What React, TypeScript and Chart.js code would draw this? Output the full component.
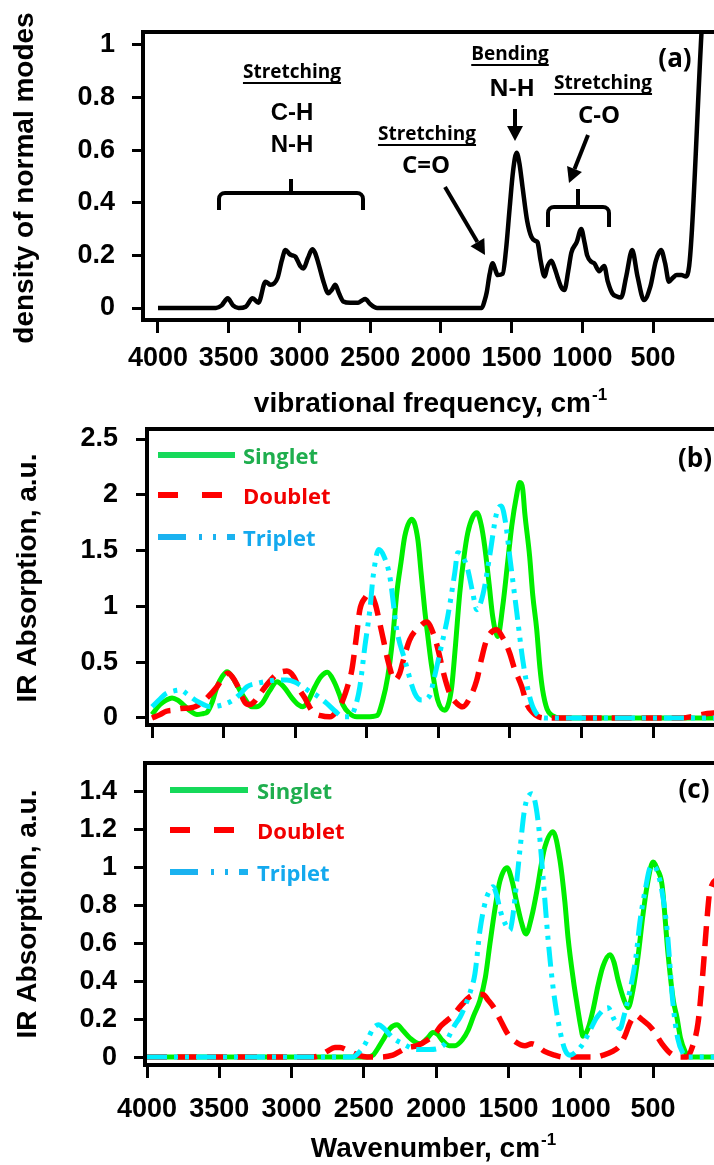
import React, { useEffect, useRef } from "react";
import { Chart, registerables } from "chart.js";

Chart.register(...registerables);

const ARIAL = "'Liberation Sans', Arial, Helvetica, sans-serif";
const CALIBRI = "'Open Sans', 'Noto Sans', sans-serif";

// ---------- ticks / labels ----------
const xTickValues = [4000, 3500, 3000, 2500, 2000, 1500, 1000, 500];
const aYTicks = [0, 0.2, 0.4, 0.6, 0.8, 1];
const bYTicks = [0, 0.5, 1, 1.5, 2, 2.5];
const cYTicks = [0, 0.2, 0.4, 0.6, 0.8, 1, 1.2, 1.4];
const seriesNames = ["Singlet", "Doublet", "Triplet"];

// ---------- panel (a): density of normal modes ----------
const aX = [4000, 3700, 3590, 3550, 3507, 3470, 3430, 3380, 3331, 3290, 3240, 3204, 3155, 3125, 3099, 3070, 3050, 3028, 2995, 2972, 2940, 2909, 2890, 2866, 2830, 2796, 2770, 2747, 2720, 2690, 2641, 2585, 2560, 2535, 2500, 2451, 2000, 1711, 1690, 1676, 1655, 1634, 1615, 1599, 1563, 1540, 1514, 1490, 1465, 1445, 1423, 1390, 1360, 1330, 1317, 1295, 1268, 1245, 1219, 1195, 1177, 1150, 1127, 1100, 1078, 1040, 1008, 985, 966, 935, 916, 881, 846, 820, 789, 760, 726, 690, 648, 610, 564, 520, 480, 444, 415, 388, 360, 332, 300, 268, 245, 225, 150, 120];
const aY = [0, 0, 0, 0.01, 0.037, 0.01, 0, 0.005, 0.037, 0.02, 0.1, 0.088, 0.114, 0.18, 0.22, 0.205, 0.2, 0.195, 0.16, 0.15, 0.19, 0.223, 0.21, 0.17, 0.1, 0.056, 0.07, 0.088, 0.055, 0.025, 0.02, 0.02, 0.028, 0.034, 0.015, 0, 0, 0, 0.03, 0.06, 0.13, 0.17, 0.145, 0.125, 0.13, 0.22, 0.38, 0.52, 0.59, 0.55, 0.46, 0.33, 0.27, 0.255, 0.25, 0.18, 0.12, 0.16, 0.18, 0.15, 0.12, 0.08, 0.068, 0.14, 0.21, 0.25, 0.3, 0.25, 0.2, 0.175, 0.17, 0.14, 0.16, 0.1, 0.056, 0.045, 0.04, 0.12, 0.22, 0.12, 0.03, 0.08, 0.18, 0.22, 0.17, 0.1, 0.115, 0.125, 0.125, 0.12, 0.16, 0.3, 1.12, 1.3];

// ---------- panel (b) ----------
const bSingletX = [4000, 3944, 3900, 3860, 3820, 3783, 3730, 3686, 3640, 3616, 3580, 3546, 3510, 3476, 3440, 3400, 3350, 3302, 3270, 3232, 3180, 3127, 3080, 3023, 2980, 2946, 2910, 2862, 2820, 2775, 2730, 2688, 2667, 2620, 2569, 2500, 2430, 2390, 2353, 2320, 2290, 2260, 2234, 2185, 2143, 2120, 2095, 2070, 2046, 2004, 1955, 1930, 1906, 1880, 1850, 1820, 1794, 1760, 1731, 1700, 1676, 1645, 1620, 1585, 1550, 1515, 1487, 1455, 1431, 1410, 1396, 1362, 1340, 1313, 1290, 1271, 1240, 1201, 1150, 30];
const bSingletY = [0.03, 0.12, 0.16, 0.18, 0.16, 0.12, 0.06, 0.03, 0.04, 0.05, 0.14, 0.28, 0.37, 0.415, 0.37, 0.28, 0.17, 0.1, 0.1, 0.13, 0.24, 0.325, 0.28, 0.18, 0.12, 0.1, 0.15, 0.28, 0.37, 0.41, 0.33, 0.2, 0.12, 0.04, 0.01, 0.01, 0.02, 0.15, 0.37, 0.7, 1.12, 1.4, 1.63, 1.78, 1.6, 1.3, 0.97, 0.7, 0.46, 0.16, 0.07, 0.12, 0.28, 0.65, 1.12, 1.45, 1.66, 1.8, 1.84, 1.73, 1.54, 1.2, 0.91, 0.73, 1.0, 1.4, 1.72, 1.98, 2.11, 2.05, 1.84, 1.45, 1.1, 0.8, 0.45, 0.25, 0.08, 0.02, 0, 0];
const bDoubletX = [4000, 3944, 3900, 3853, 3800, 3735, 3700, 3660, 3616, 3546, 3500, 3470, 3440, 3407, 3351, 3320, 3290, 3260, 3190, 3120, 3058, 3010, 2967, 2933, 2880, 2820, 2758, 2710, 2667, 2630, 2604, 2570, 2548, 2510, 2478, 2440, 2409, 2380, 2353, 2304, 2270, 2248, 2200, 2129, 2081, 2025, 1990, 1969, 1920, 1870, 1829, 1780, 1731, 1700, 1662, 1592, 1550, 1501, 1470, 1417, 1380, 1341, 1300, 1250, 300, 200, 120, 30];
const bDoubletY = [0, 0.03, 0.06, 0.07, 0.085, 0.09, 0.1, 0.13, 0.18, 0.28, 0.37, 0.4, 0.37, 0.3, 0.14, 0.12, 0.14, 0.19, 0.31, 0.4, 0.42, 0.37, 0.25, 0.18, 0.06, 0.02, 0.01, 0.06, 0.16, 0.3, 0.43, 0.75, 0.97, 1.08, 1.12, 1.02, 0.85, 0.68, 0.52, 0.34, 0.4, 0.5, 0.7, 0.82, 0.86, 0.72, 0.55, 0.43, 0.22, 0.13, 0.1, 0.18, 0.34, 0.52, 0.7, 0.79, 0.72, 0.58, 0.45, 0.28, 0.12, 0.05, 0.01, 0, 0, 0.02, 0.04, 0.05];
const bTripletX = [4000, 3944, 3900, 3853, 3800, 3750, 3686, 3640, 3595, 3530, 3480, 3435, 3380, 3337, 3267, 3190, 3120, 3058, 3000, 2946, 2890, 2848, 2779, 2720, 2667, 2618, 2580, 2548, 2513, 2478, 2455, 2416, 2380, 2339, 2290, 2234, 2164, 2116, 2060, 2030, 1990, 1934, 1885, 1864, 1830, 1794, 1759, 1731, 1700, 1676, 1640, 1592, 1560, 1530, 1501, 1452, 1410, 1362, 1320, 1243, 30];
const bTripletY = [0.1, 0.17, 0.22, 0.24, 0.25, 0.21, 0.15, 0.12, 0.1, 0.11, 0.13, 0.16, 0.22, 0.28, 0.31, 0.33, 0.34, 0.34, 0.32, 0.28, 0.23, 0.2, 0.13, 0.06, 0.01, 0.01, 0.1, 0.28, 0.64, 0.97, 1.27, 1.51, 1.45, 1.27, 0.79, 0.52, 0.22, 0.16, 0.2, 0.35, 0.58, 0.91, 1.3, 1.48, 1.45, 1.33, 1.12, 0.97, 1.05, 1.18, 1.46, 1.84, 1.9, 1.75, 1.45, 0.95, 0.52, 0.19, 0.05, 0, 0];

// ---------- panel (c) ----------
const cSingletX = [4000, 2480, 2437, 2400, 2368, 2320, 2271, 2230, 2181, 2112, 2060, 2022, 1990, 1960, 1910, 1870, 1820, 1780, 1740, 1697, 1660, 1628, 1590, 1559, 1510, 1475, 1441, 1410, 1379, 1340, 1303, 1270, 1248, 1192, 1144, 1110, 1088, 1050, 1026, 1000, 985, 950, 915, 880, 846, 798, 770, 743, 700, 673, 640, 604, 570, 542, 500, 470, 438, 397, 360, 335, 310, 279, 250, 30];
const cSingletY = [0, 0, 0.01, 0.05, 0.09, 0.15, 0.17, 0.14, 0.1, 0.07, 0.1, 0.13, 0.12, 0.09, 0.06, 0.06, 0.09, 0.14, 0.22, 0.3, 0.42, 0.6, 0.8, 0.93, 1.0, 0.93, 0.81, 0.71, 0.65, 0.74, 0.88, 1.03, 1.11, 1.19, 1.04, 0.82, 0.63, 0.4, 0.28, 0.16, 0.11, 0.15, 0.25, 0.38, 0.48, 0.54, 0.5, 0.41, 0.3, 0.26, 0.35, 0.53, 0.75, 0.9, 1.03, 0.99, 0.91, 0.55, 0.3, 0.21, 0.1, 0.03, 0, 0];
const cDoubletX = [4000, 2850, 2800, 2755, 2700, 2665, 2600, 2540, 2478, 2389, 2300, 2250, 2200, 2133, 2060, 2000, 1973, 1930, 1884, 1830, 1766, 1720, 1676, 1640, 1600, 1559, 1503, 1450, 1386, 1340, 1303, 1250, 1180, 1123, 900, 846, 780, 730, 690, 660, 620, 580, 507, 438, 380, 314, 265, 230, 189, 155, 130, 106, 30];
const cDoubletY = [0, 0, 0.01, 0.03, 0.05, 0.05, 0.03, 0.01, 0, 0, 0.01, 0.03, 0.05, 0.06, 0.09, 0.13, 0.16, 0.19, 0.22, 0.27, 0.32, 0.33, 0.33, 0.3, 0.26, 0.2, 0.12, 0.08, 0.06, 0.07, 0.06, 0.03, 0.01, 0, 0, 0.01, 0.03, 0.06, 0.12, 0.18, 0.22, 0.2, 0.15, 0.07, 0.02, 0, 0, 0.05, 0.18, 0.45, 0.7, 0.88, 0.95];
const cTripletX = [4000, 2600, 2575, 2540, 2506, 2470, 2437, 2400, 2360, 2298, 2230, 2133, 2050, 1974, 1930, 1905, 1870, 1835, 1800, 1766, 1732, 1697, 1660, 1630, 1607, 1580, 1559, 1520, 1490, 1469, 1440, 1420, 1386, 1338, 1296, 1261, 1227, 1192, 1144, 1110, 1075, 1030, 985, 930, 888, 812, 770, 729, 700, 660, 620, 590, 550, 521, 500, 452, 404, 362, 330, 293, 260, 30];
const cTripletY = [0, 0, 0, 0.02, 0.05, 0.1, 0.15, 0.17, 0.15, 0.1, 0.07, 0.04, 0.04, 0.05, 0.08, 0.12, 0.17, 0.21, 0.27, 0.34, 0.44, 0.67, 0.82, 0.88, 0.9, 0.85, 0.78, 0.7, 0.67, 0.75, 0.95, 1.1, 1.32, 1.39, 1.25, 0.95, 0.63, 0.37, 0.14, 0.04, 0.01, 0.03, 0.07, 0.15, 0.21, 0.26, 0.2, 0.15, 0.22, 0.35, 0.52, 0.72, 0.9, 1.0, 1.01, 0.93, 0.68, 0.28, 0.1, 0.02, 0, 0];

// ---------- styles ----------
const CANVAS_W = 724;
const singletColor = "#00ee00";
const doubletColor = "#ff0000";
const tripletColor = "#00eeff";
const singletDash: number[] = [];
const doubletDash = [20, 10];
const tripletDash = [20, 7, 4, 7, 4, 7];

function pts(xs: number[], ys: number[]) {
  return xs.map((x, i) => ({ x, y: ys[i] }));
}

function lineDs(label: string, xs: number[], ys: number[], color: string, width: number, dash: number[], order: number) {
  return {
    label,
    data: pts(xs, ys),
    borderColor: color,
    backgroundColor: color,
    borderWidth: width,
    borderDash: dash,
    borderCapStyle: "butt",
    borderJoinStyle: "round",
    pointRadius: 0,
    pointHoverRadius: 0,
    fill: false,
    tension: 0.4,
    cubicInterpolationMode: "monotone",
    order,
  };
}

// ---------- drawing helpers ----------
function text(ctx: CanvasRenderingContext2D, s: string, x: number, y: number, font: string, color = "#000", align: CanvasTextAlign = "center") {
  ctx.save();
  ctx.font = font;
  ctx.fillStyle = color;
  ctx.textAlign = align;
  ctx.textBaseline = "alphabetic";
  ctx.fillText(s, x, y);
  ctx.restore();
}

function underlinedText(ctx: CanvasRenderingContext2D, s: string, x: number, y: number, size: number) {
  const font = `bold ${size}px ${CALIBRI}`;
  text(ctx, s, x, y, font);
  ctx.save();
  ctx.font = font;
  const w = ctx.measureText(s).width;
  ctx.fillStyle = "#000";
  ctx.fillRect(x - w / 2, y + 4, w, 2);
  ctx.restore();
}

function rotatedTitle(ctx: CanvasRenderingContext2D, s: string, cx: number, cy: number, size: number) {
  ctx.save();
  ctx.translate(cx, cy);
  ctx.rotate(-Math.PI / 2);
  ctx.font = `bold ${size}px ${ARIAL}`;
  ctx.fillStyle = "#000";
  ctx.textAlign = "center";
  ctx.textBaseline = "middle";
  ctx.fillText(s, 0, 0);
  ctx.restore();
}

function supTitle(ctx: CanvasRenderingContext2D, main: string, sup: string, cx: number, baseline: number, size: number) {
  ctx.save();
  ctx.fillStyle = "#000";
  ctx.textAlign = "left";
  ctx.textBaseline = "alphabetic";
  ctx.font = `bold ${size}px ${ARIAL}`;
  const w1 = ctx.measureText(main).width;
  const supSize = Math.round(size * 0.6);
  ctx.font = `bold ${supSize}px ${ARIAL}`;
  const w2 = ctx.measureText(sup).width;
  const x0 = cx - (w1 + w2) / 2;
  ctx.font = `bold ${size}px ${ARIAL}`;
  ctx.fillText(main, x0, baseline);
  ctx.font = `bold ${supSize}px ${ARIAL}`;
  ctx.fillText(sup, x0 + w1 + 1, baseline - size * 0.42);
  ctx.restore();
}

function arrow(ctx: CanvasRenderingContext2D, x1: number, y1: number, x2: number, y2: number) {
  const head = 15;
  const hw = 8;
  const ang = Math.atan2(y2 - y1, x2 - x1);
  const bx = x2 - head * Math.cos(ang);
  const by = y2 - head * Math.sin(ang);
  ctx.save();
  ctx.strokeStyle = "#000";
  ctx.fillStyle = "#000";
  ctx.lineWidth = 4;
  ctx.beginPath();
  ctx.moveTo(x1, y1);
  ctx.lineTo(bx, by);
  ctx.stroke();
  ctx.beginPath();
  ctx.moveTo(x2, y2);
  ctx.lineTo(bx + hw * Math.sin(ang), by - hw * Math.cos(ang));
  ctx.lineTo(bx - hw * Math.sin(ang), by + hw * Math.cos(ang));
  ctx.closePath();
  ctx.fill();
  ctx.restore();
}

function bracket(ctx: CanvasRenderingContext2D, xl: number, xr: number, yTop: number, yEnd: number, xm: number, yNub: number) {
  const r = 6;
  ctx.save();
  ctx.strokeStyle = "#000";
  ctx.lineWidth = 4;
  ctx.lineCap = "butt";
  ctx.beginPath();
  ctx.moveTo(xl, yEnd);
  ctx.arcTo(xl, yTop, xl + r, yTop, r);
  ctx.lineTo(xr - r, yTop);
  ctx.arcTo(xr, yTop, xr, yTop + r, r);
  ctx.lineTo(xr, yEnd);
  ctx.moveTo(xm, yTop);
  ctx.lineTo(xm, yNub);
  ctx.stroke();
  ctx.restore();
}

function legendLine(ctx: CanvasRenderingContext2D, x0: number, x1: number, y: number, color: string, dash: number[]) {
  ctx.save();
  ctx.strokeStyle = color;
  ctx.lineWidth = 6;
  ctx.lineCap = "butt";
  ctx.setLineDash(dash);
  ctx.beginPath();
  ctx.moveTo(x0, y);
  ctx.lineTo(x1, y);
  ctx.stroke();
  ctx.restore();
}

function drawLegend(ctx: CanvasRenderingContext2D, x0: number, x1: number, tx: number, ys: number[]) {
  const font = `bold 22px ${CALIBRI}`;
  legendLine(ctx, x0, x1, ys[0], "#16d95a", []);
  text(ctx, seriesNames[0], tx, ys[0] + 9, font, "#1fae4e", "left");
  legendLine(ctx, x0, x1, ys[1], "#ff0000", [20, 24]);
  text(ctx, seriesNames[1], tx, ys[1] + 9, font, "#f20000", "left");
  legendLine(ctx, x0, x1, ys[2], "#1ab2f0", [28, 13, 3, 11, 3, 11]);
  text(ctx, seriesNames[2], tx, ys[2] + 9, font, "#14a9ee", "left");
}

function drawBox(chart: any) {
  const { ctx, chartArea } = chart;
  ctx.save();
  ctx.strokeStyle = "#000";
  ctx.lineWidth = 4;
  ctx.strokeRect(chartArea.left, chartArea.top, chartArea.right - chartArea.left, chartArea.bottom - chartArea.top);
  ctx.restore();
}

// ---------- panels ----------
type PanelCfg = {
  key: string;
  top: number;
  height: number;
  area: { left: number; top: number; right: number; bottom: number };
  xMin: number;
  xMax: number;
  yMin: number;
  yMax: number;
  yTicks: number[];
  showXLabels: boolean;
  xLabelPad: number;
  yLabelPad: number;
  datasets: any[];
  draw: (ctx: CanvasRenderingContext2D) => void;
};

const panels: PanelCfg[] = [
  {
    key: "a",
    top: 0,
    height: 425,
    area: { left: 143, top: 32, right: 720, bottom: 320 },
    xMin: 27,
    xMax: 4106,
    yMin: -0.0456,
    yMax: 1.049,
    yTicks: aYTicks,
    showXLabels: true,
    xLabelPad: 9,
    yLabelPad: 17,
    datasets: [lineDs("density", aX, aY, "#000", 4.5, [], 1)],
    draw: (ctx) => {
      rotatedTitle(ctx, "density of normal modes", 25, 178, 28);
      supTitle(ctx, "vibrational frequency, cm", "-1", 430, 412, 28);
      underlinedText(ctx, "Stretching", 292, 78, 19);
      text(ctx, "C-H", 292, 120, `bold 24px ${ARIAL}`);
      text(ctx, "N-H", 292, 152, `bold 24px ${ARIAL}`);
      bracket(ctx, 219, 363, 193, 210, 291, 179);
      underlinedText(ctx, "Stretching", 427, 140, 19);
      text(ctx, "C=O", 426, 173, `bold 24px ${CALIBRI}`);
      arrow(ctx, 445, 187, 485, 255);
      underlinedText(ctx, "Bending", 510, 60, 19);
      text(ctx, "N-H", 512, 96, `bold 24px ${CALIBRI}`);
      arrow(ctx, 515, 109, 515, 141);
      underlinedText(ctx, "Stretching", 603, 89, 19);
      text(ctx, "C-O", 599, 123, `bold 24px ${CALIBRI}`);
      arrow(ctx, 588, 135, 569, 183);
      bracket(ctx, 548, 609, 207, 227, 578, 189);
      text(ctx, "(a)", 675, 67, `bold 26px ${CALIBRI}`);
    },
  },
  {
    key: "b",
    top: 425,
    height: 315,
    area: { left: 147, top: 4, right: 720, bottom: 300 },
    xMin: 32,
    xMax: 4035,
    yMin: -0.063,
    yMax: 2.59,
    yTicks: bYTicks,
    showXLabels: false,
    xLabelPad: 9,
    yLabelPad: 18,
    datasets: [
      lineDs(seriesNames[0], bSingletX, bSingletY, singletColor, 5, singletDash, 3),
      lineDs(seriesNames[1], bDoubletX, bDoubletY, doubletColor, 5.5, doubletDash, 2),
      lineDs(seriesNames[2], bTripletX, bTripletY, tripletColor, 5, tripletDash, 1),
    ],
    draw: (ctx) => {
      rotatedTitle(ctx, "IR Absorption, a.u.", 28, 153, 28);
      drawLegend(ctx, 158, 235, 243, [30, 70, 112]);
      text(ctx, "(b)", 695, 42, `bold 26px ${CALIBRI}`);
    },
  },
  {
    key: "c",
    top: 740,
    height: 425,
    area: { left: 145, top: 23, right: 720, bottom: 325 },
    xMin: 37,
    xMax: 4014,
    yMin: -0.042,
    yMax: 1.553,
    yTicks: cYTicks,
    showXLabels: true,
    xLabelPad: 15,
    yLabelPad: 17,
    datasets: [
      lineDs(seriesNames[0], cSingletX, cSingletY, singletColor, 5, singletDash, 3),
      lineDs(seriesNames[1], cDoubletX, cDoubletY, doubletColor, 5.5, doubletDash, 2),
      lineDs(seriesNames[2], cTripletX, cTripletY, tripletColor, 5, tripletDash, 1),
    ],
    draw: (ctx) => {
      rotatedTitle(ctx, "IR Absorption, a.u.", 28, 174, 28);
      supTitle(ctx, "Wavenumber, cm", "-1", 433, 417, 28);
      drawLegend(ctx, 170, 248, 257, [50, 90, 132]);
      text(ctx, "(c)", 694, 58, `bold 26px ${CALIBRI}`);
    },
  },
];

function PanelChart({ cfg }: { cfg: PanelCfg }) {
  const ref = useRef<HTMLCanvasElement | null>(null);
  useEffect(() => {
    const canvas = ref.current;
    if (!canvas) return;
    const tickFont = { family: ARIAL, size: 27, weight: "bold" as const };
    const decor = {
      id: "decor" + cfg.key,
      afterDraw(chart: any) {
        drawBox(chart);
        cfg.draw(chart.ctx);
      },
    };
    const chart = new Chart(canvas, {
      type: "line",
      data: { datasets: cfg.datasets as any },
      options: {
        animation: false,
        responsive: false,
        devicePixelRatio: 1,
        events: [],
        layout: {
          padding: { left: 0, top: cfg.area.top, right: CANVAS_W - cfg.area.right, bottom: 0 },
        },
        plugins: { legend: { display: false }, tooltip: { enabled: false }, title: { display: false } },
        scales: {
          x: {
            type: "linear",
            reverse: true,
            min: cfg.xMin,
            max: cfg.xMax,
            afterBuildTicks: (s: any) => {
              s.ticks = xTickValues.map((v) => ({ value: v }));
            },
            afterFit: (s: any) => {
              s.height = cfg.height - cfg.area.bottom;
              s.paddingLeft = 0;
              s.paddingRight = 0;
            },
            grid: {
              display: true,
              drawOnChartArea: false,
              drawTicks: true,
              tickLength: 13,
              tickWidth: 3,
              tickColor: "#000",
              color: "#000",
            },
            border: { display: false },
            ticks: {
              autoSkip: false,
              maxRotation: 0,
              minRotation: 0,
              padding: cfg.xLabelPad,
              color: "#000",
              font: tickFont,
              callback: (v: any) => (cfg.showXLabels ? String(v) : ""),
            },
          },
          y: {
            type: "linear",
            min: cfg.yMin,
            max: cfg.yMax,
            afterBuildTicks: (s: any) => {
              s.ticks = cfg.yTicks.map((v) => ({ value: v }));
            },
            afterFit: (s: any) => {
              s.width = cfg.area.left;
              s.paddingTop = 0;
              s.paddingBottom = 0;
            },
            grid: {
              display: true,
              drawOnChartArea: false,
              drawTicks: true,
              tickLength: 11,
              tickWidth: 3,
              tickColor: "#000",
              color: "#000",
            },
            border: { display: false },
            ticks: {
              padding: cfg.yLabelPad,
              color: "#000",
              font: tickFont,
              callback: (v: any) => String(v),
            },
          },
        },
      } as any,
      plugins: [decor],
    });
    return () => chart.destroy();
  }, [cfg]);
  return (
    <canvas
      ref={ref}
      width={CANVAS_W}
      height={cfg.height}
      style={{ position: "absolute", left: 0, top: cfg.top, width: CANVAS_W, height: cfg.height }}
    />
  );
}

export default function App() {
  return (
    <div
      style={{
        position: "absolute",
        left: 0,
        top: 0,
        width: 714,
        height: 1165,
        overflow: "hidden",
        background: "#fff",
      }}
    >
      {panels.map((p) => (
        <PanelChart key={p.key} cfg={p} />
      ))}
    </div>
  );
}
